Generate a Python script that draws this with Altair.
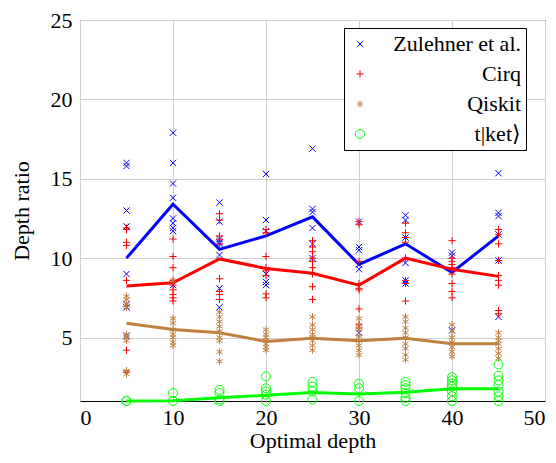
import altair as alt
import pandas as pd

depths = [5, 10, 15, 20, 25, 30, 35, 40, 45]
series = ["Zulehner et al.", "Cirq", "Qiskit", "t|ket\u27e9"]
colors = ["#0000ff", "#ff0000", "#bf8040", "#00ff00"]

zulehner_pts = [
    [16.0, 15.8, 13.0, 12.0, 9.0, 7.1, 6.9, 5.1],
    [17.9, 16.0, 14.7, 13.8, 12.5, 12.2, 11.9, 11.7, 8.3],
    [13.5, 12.3, 11.2, 11.0, 10.9, 10.2, 8.1, 6.9],
    [15.3, 12.4, 11.7, 9.0, 8.5, 8.3],
    [16.9, 13.1, 12.9, 11.9, 10.9, 10.0],
    [12.3, 10.7, 10.5, 9.6, 9.3, 5.3],
    [12.7, 12.4, 11.3, 9.7, 8.6, 8.4],
    [10.35, 10.15, 5.45],
    [15.35, 12.85, 12.65, 11.5, 9.85, 6.3],
]
zulehner_line = [10.0, 13.4, 10.55, 11.4, 12.6, 9.6, 10.9, 9.1, 11.4]

cirq_pts = [
    [11.9, 11.8, 11.0, 10.8, 8.6, 4.2, 2.9, 2.8],
    [11.2, 10.1, 9.4, 8.6, 8.3, 8.0, 7.7, 7.5, 7.3],
    [12.8, 12.4, 11.4, 11.2, 10.9, 8.7, 7.9, 7.7, 7.4],
    [11.8, 11.6, 10.1, 9.4, 9.2, 8.9, 7.75, 7.5],
    [11.1, 10.7, 10.4, 10.0, 9.8, 9.4, 9.0, 8.2, 7.4],
    [12.3, 12.1, 9.8, 8.4, 8.1, 8.0, 6.8, 5.8, 5.6],
    [12.2, 11.6, 11.3, 11.0, 10.0, 8.6, 8.4, 7.3],
    [11.1, 10.0, 9.8, 9.6, 9.4, 9.0, 8.4, 7.9, 7.5],
    [11.8, 11.5, 10.9, 9.85, 8.9, 8.6, 8.3, 6.7, 6.5],
]
cirq_line = [8.25, 8.45, 9.95, 9.35, 9.05, 8.3, 10.0, 9.3, 8.85]

qiskit_pts = [
    [7.6, 7.4, 7.1, 6.9, 5.2, 5.0, 4.8, 2.9, 2.7],
    [8.6, 6.2, 5.9, 5.5, 5.2, 5.0, 4.7, 4.5],
    [6.6, 6.3, 6.0, 5.7, 5.4, 5.0, 4.8, 4.1, 3.5],
    [5.5, 5.2, 5.0, 4.8, 4.6, 4.4, 4.2],
    [6.3, 5.8, 5.5, 5.2, 5.0, 4.8, 4.5, 4.2],
    [6.2, 5.8, 5.5, 5.1, 4.8, 4.5, 4.2, 3.9],
    [6.3, 6.0, 5.6, 5.3, 5.0, 4.6, 4.3, 3.9, 3.6],
    [5.8, 5.4, 5.0, 4.7, 4.4, 4.1, 3.8],
    [5.3, 5.0, 4.8, 4.6, 4.3, 4.0, 3.7],
]
qiskit_line = [5.9, 5.5, 5.3, 4.75, 4.95, 4.8, 4.95, 4.6, 4.6]

tket_pts = [
    [1.0, 1.0],
    [1.5, 1.0],
    [1.7, 1.5, 1.1, 1.0],
    [2.55, 1.8, 1.6, 1.4, 1.0],
    [2.2, 1.9, 1.6, 1.1],
    [2.1, 1.8, 1.0],
    [2.2, 2.0, 1.8, 1.5, 1.2, 1.0],
    [2.5, 2.3, 2.1, 1.9, 1.6, 1.3, 1.0],
    [3.3, 2.6, 2.3, 2.0, 1.6, 1.3, 1.0],
]
tket_line = [1.0, 1.02, 1.2, 1.36, 1.54, 1.44, 1.55, 1.77, 1.77]

all_pts = [zulehner_pts, cirq_pts, qiskit_pts, tket_pts]
all_lines = [zulehner_line, cirq_line, qiskit_line, tket_line]

pt_rows = []
ln_rows = []
for s, pts, ln in zip(series, all_pts, all_lines):
    for d, vals in zip(depths, pts):
        for v in vals:
            pt_rows.append({"series": s, "depth": d, "ratio": v})
    for d, v in zip(depths, ln):
        ln_rows.append({"series": s, "depth": d, "ratio": v})
pts_df = pd.DataFrame(pt_rows)
ln_df = pd.DataFrame(ln_rows)

shapes = [
    "M-0.7,-0.7L0.7,0.7M-0.7,0.7L0.7,-0.7",
    "M-0.8,0L0.8,0M0,-0.8L0,0.8",
    "M0,-0.8L0,0.8M-0.69,-0.4L0.69,0.4M-0.69,0.4L0.69,-0.4",
    "circle",
]

FONT = "Liberation Serif"

x_enc = alt.X("depth:Q", scale=alt.Scale(domain=[0, 50], nice=False),
              axis=alt.Axis(values=[0, 10, 20, 30, 40, 50], title="Optimal depth",
                            labelPadding=6, titlePadding=2))
y_enc = alt.Y("ratio:Q", scale=alt.Scale(domain=[1, 25], nice=False, zero=False),
              axis=alt.Axis(values=[5, 10, 15, 20, 25], title="Depth ratio",
                            labelPadding=8, titlePadding=17))

legend = alt.Legend(title=None, orient="none", legendX=264, legendY=8,
                    labelAlign="right",
                    labelOffset=150, labelLimit=220, padding=5, strokeColor="black",
                    fillColor="white", labelFont=FONT, labelFontSize=22,
                    labelColor="black", symbolStrokeWidth=1, rowPadding=8,
                    symbolSize=81, cornerRadius=0)

color_enc = alt.Color("series:N", scale=alt.Scale(domain=series, range=colors), legend=legend)
shape_enc = alt.Shape("series:N", scale=alt.Scale(domain=series, range=shapes), legend=legend)

layers = []
for s, c in zip(series, colors):
    p = alt.Chart(pts_df).transform_filter(alt.datum.series == s).mark_point(
        filled=False, strokeWidth=1, size=81, opacity=1
    ).encode(x=x_enc, y=y_enc, color=color_enc, shape=shape_enc)
    l = alt.Chart(ln_df).transform_filter(alt.datum.series == s).mark_line(
        strokeWidth=3, color=c
    ).encode(x=x_enc, y=y_enc)
    layers += [p, l]

chart = alt.layer(*layers).properties(
    width=465, height=381,
    autosize=alt.AutoSizeParams(type="none"),
    padding={"left": 72, "top": 12, "right": 3, "bottom": 62},
).configure(
    font=FONT
).configure_view(
    stroke="black", strokeWidth=1
).configure_axis(
    domain=False, ticks=False, grid=True, gridColor="#d0d0d0", gridWidth=1,
    labelFont=FONT, labelFontSize=22, labelColor="black",
    titleFont=FONT, titleFontSize=22, titleFontWeight="normal", titleColor="black",
).configure_legend(
    labelFont=FONT
)

chart.save("out.html", embed_options={"renderer": "svg", "actions": False})
